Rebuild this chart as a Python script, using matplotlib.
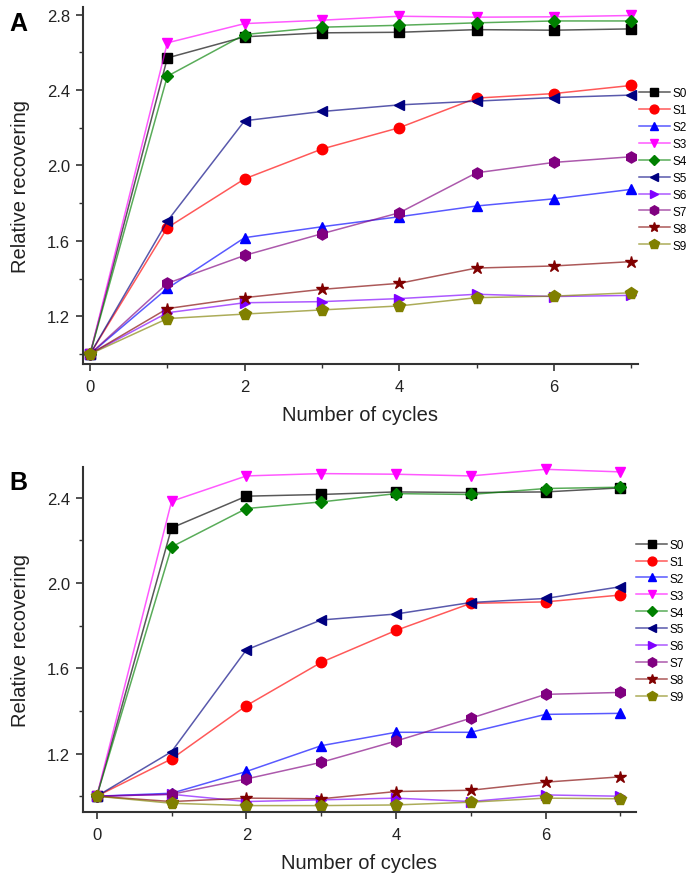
"""Relative recovering versus number of cycles, panels A and B."""

import matplotlib
matplotlib.use("Agg")
import matplotlib.pyplot as plt
from matplotlib.colors import to_rgba
from matplotlib.ticker import MultipleLocator

plt.rcParams["font.family"] = ["Liberation Sans", "DejaVu Sans"]

cycles = [0, 1, 2, 3, 4, 5, 6, 7]
names = ["S0", "S1", "S2", "S3", "S4", "S5", "S6", "S7", "S8", "S9"]

# panel A
a_vals = {
    "S0": [1.0, 2.570, 2.682, 2.703, 2.706, 2.720, 2.717, 2.724],
    "S1": [1.0, 1.670, 1.929, 2.087, 2.200, 2.357, 2.381, 2.424],
    "S2": [1.0, 1.348, 1.617, 1.675, 1.728, 1.785, 1.823, 1.873],
    "S3": [1.0, 2.650, 2.752, 2.770, 2.791, 2.786, 2.788, 2.795],
    "S4": [1.0, 2.473, 2.694, 2.733, 2.743, 2.756, 2.766, 2.766],
    "S5": [1.0, 1.705, 2.237, 2.286, 2.321, 2.341, 2.360, 2.373],
    "S6": [1.0, 1.219, 1.272, 1.278, 1.294, 1.317, 1.305, 1.311],
    "S7": [1.0, 1.375, 1.523, 1.638, 1.749, 1.961, 2.016, 2.046],
    "S8": [1.0, 1.241, 1.299, 1.343, 1.375, 1.456, 1.467, 1.490],
    "S9": [1.0, 1.188, 1.212, 1.234, 1.255, 1.299, 1.307, 1.325],
}

# panel B
b_vals = {
    "S0": [1.0, 2.259, 2.408, 2.416, 2.428, 2.425, 2.428, 2.447],
    "S1": [1.0, 1.175, 1.425, 1.628, 1.778, 1.905, 1.912, 1.944],
    "S2": [1.0, 1.014, 1.116, 1.237, 1.300, 1.300, 1.384, 1.389],
    "S3": [1.0, 2.384, 2.503, 2.514, 2.511, 2.503, 2.534, 2.522],
    "S4": [1.0, 2.170, 2.350, 2.381, 2.420, 2.416, 2.444, 2.450],
    "S5": [1.0, 1.209, 1.687, 1.827, 1.855, 1.909, 1.928, 1.983],
    "S6": [1.0, 1.009, 0.975, 0.983, 0.991, 0.975, 1.006, 1.000],
    "S7": [1.0, 1.009, 1.081, 1.159, 1.259, 1.366, 1.478, 1.487],
    "S8": [1.0, 0.975, 0.991, 0.988, 1.022, 1.028, 1.066, 1.091],
    "S9": [1.0, 0.967, 0.956, 0.956, 0.959, 0.972, 0.991, 0.988],
}

colors = ["#000000", "#ff0000", "#0000ff", "#ff00ff", "#008000",
          "#000080", "#8000ff", "#800080", "#800000", "#808000"]
markers = ["s", "o", "^", "v", "D", "<", ">", "h", "*", "p"]
msizes = [6.5, 7.5, 7.5, 7.5, 6.5, 7.5, 7.5, 8, 9, 8.5]


def draw(ax, vals, xlim, ylim, letter, leg_anchor):
    for name, c, m, ms in zip(names, colors, markers, msizes):
        ax.plot(cycles, vals[name], color=to_rgba(c, 0.65), lw=1.1,
                marker=m, ms=ms, mfc=c, mec=c, label=name, clip_on=False)
    ax.xaxis.set_major_locator(MultipleLocator(2))
    ax.xaxis.set_minor_locator(MultipleLocator(1))
    ax.yaxis.set_minor_locator(MultipleLocator(0.2))
    ax.set_yticks([1.2, 1.6, 2.0, 2.4, 2.8])
    ax.set_xlim(*xlim)
    ax.set_ylim(*ylim)
    for s in ["top", "right"]:
        ax.spines[s].set_visible(False)
    for s in ["left", "bottom"]:
        ax.spines[s].set_linewidth(1.5)
        ax.spines[s].set_color("#333333")
    ax.tick_params(which="major", length=5, width=1.2, labelsize=12,
                   colors="#333333", labelcolor="#222222", pad=4)
    ax.tick_params(axis="x", which="major", pad=6)
    ax.tick_params(which="minor", length=3, width=1.0, colors="#333333")
    ax.set_xlabel("Number of cycles", fontsize=14.5, color="#222222", labelpad=8)
    ax.set_ylabel("Relative recovering", fontsize=14.5, color="#222222", labelpad=12)
    ax.figure.text(0.013, ax.get_position().y1 - 0.004, letter, fontsize=18,
                   fontweight="bold", va="top", ha="left")
    ax.legend(loc="upper left", bbox_to_anchor=leg_anchor,
              bbox_transform=ax.figure.transFigure, frameon=False,
              fontsize=8.5, borderpad=0, borderaxespad=0, handlelength=2.6,
              handletextpad=0.2, labelspacing=0.42, markerscale=0.85)


fig = plt.figure(figsize=(6.88, 8.79), dpi=100)
ax_a = fig.add_axes([0.12, 0.5847, 0.8074, 0.4062])
ax_b = fig.add_axes([0.12, 0.0751, 0.8045, 0.3925])

draw(ax_a, a_vals, (-0.097, 7.09), (0.947, 2.84), "A", (0.929, 0.9))
draw(ax_b, b_vals, (-0.19, 7.21), (0.926, 2.545), "B", (0.925, 0.386))

fig.savefig("out.png", dpi=100)
